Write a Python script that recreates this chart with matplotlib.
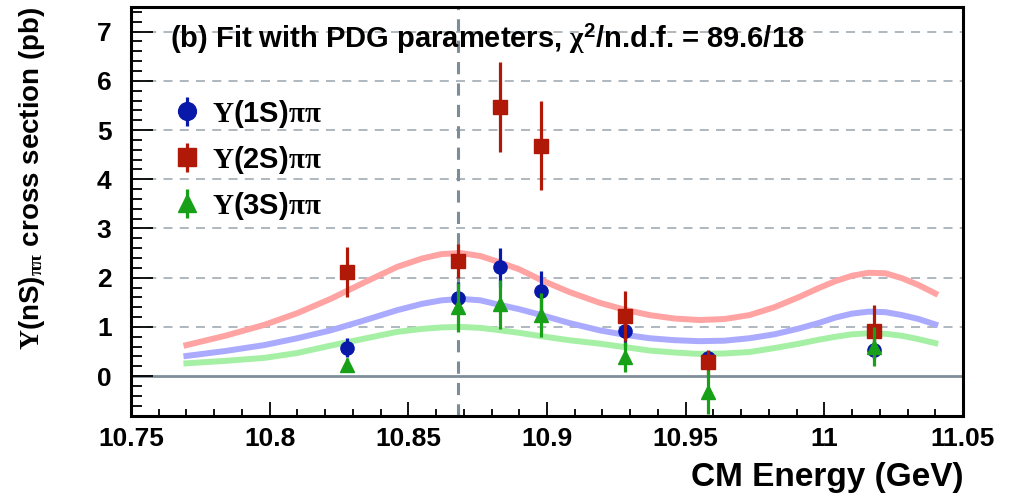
import matplotlib
matplotlib.use("Agg")
import matplotlib.pyplot as plt
from matplotlib.ticker import MultipleLocator

plt.rcParams['font.family'] = ['Liberation Sans', 'DejaVu Sans']
plt.rcParams['font.weight'] = 'bold'
plt.rcParams['mathtext.fontset'] = 'custom'
plt.rcParams['mathtext.rm'] = 'Liberation Serif'
plt.rcParams['mathtext.it'] = 'Liberation Serif:italic'
plt.rcParams['mathtext.bf'] = 'Liberation Sans:bold'
plt.rcParams['mathtext.sf'] = 'Liberation Sans:bold'

# Measured cross sections at each scan energy (pb)
energy = [10.828, 10.868, 10.883, 10.898, 10.928, 10.958, 11.018]
ups1s = [0.58, 1.59, 2.21, 1.73, 0.91, 0.36, 0.54]
ups1s_err = [0.20, 0.32, 0.40, 0.40, 0.30, 0.15, 0.20]
ups2s = [2.12, 2.34, 5.47, 4.68, 1.22, 0.28, 0.91]
ups2s_err = [0.51, 0.34, 0.92, 0.90, 0.50, 0.25, 0.53]
ups3s = [0.22, 1.40, 1.46, 1.24, 0.39, -0.32, 0.60]
ups3s_err = [0.14, 0.50, 0.50, 0.45, 0.30, 0.45, 0.40]

# Fit curves with PDG resonance parameters
fit_energy = [10.770, 10.784, 10.798, 10.810, 10.822, 10.834, 10.846, 10.855,
              10.862, 10.869, 10.876, 10.882, 10.890, 10.898, 10.908, 10.919,
              10.928, 10.937, 10.946, 10.955, 10.964, 10.973, 10.982, 10.991,
              10.998, 11.004, 11.010, 11.016, 11.022, 11.028, 11.034, 11.040]
fit_1s = [0.41, 0.51, 0.63, 0.77, 0.93, 1.13, 1.34, 1.47, 1.54, 1.57, 1.54,
          1.46, 1.36, 1.24, 1.08, 0.93, 0.84, 0.77, 0.73, 0.71, 0.72, 0.77,
          0.85, 0.97, 1.08, 1.19, 1.27, 1.31, 1.30, 1.24, 1.16, 1.05]
fit_2s = [0.63, 0.82, 1.04, 1.28, 1.57, 1.90, 2.22, 2.39, 2.48, 2.50, 2.44,
          2.33, 2.17, 1.95, 1.71, 1.49, 1.35, 1.24, 1.17, 1.14, 1.16, 1.24,
          1.40, 1.61, 1.79, 1.93, 2.04, 2.10, 2.09, 1.99, 1.85, 1.68]
fit_3s = [0.26, 0.31, 0.37, 0.47, 0.62, 0.76, 0.90, 0.96, 0.99, 1.00, 0.98,
          0.94, 0.88, 0.81, 0.73, 0.66, 0.59, 0.52, 0.48, 0.45, 0.46, 0.49,
          0.57, 0.66, 0.74, 0.80, 0.85, 0.87, 0.86, 0.82, 0.75, 0.67]

peak_energy = 10.868

fig = plt.figure(figsize=(10.12, 4.96), dpi=100)
ax = fig.add_axes([0.1294, 0.1613, 0.8222, 0.8246])
ax.set_xlim(10.75, 11.05)
ax.set_ylim(-0.81, 7.5)

# grid and reference lines
for yv in range(1, 8):
    ax.axhline(yv, color='#a7b2b9', lw=1.3, ls=(0, (5, 4)), zorder=1)
ax.axhline(0, color='#7f8e98', lw=2.0, zorder=1)
ax.axvline(peak_energy, color='#7d8d98', lw=2.2, ls=(0, (4, 3)), zorder=1)

# fit curves
ax.plot(fit_energy, fit_2s, color='#ffa3a3', lw=4.3, zorder=2, solid_joinstyle='round')
ax.plot(fit_energy, fit_1s, color='#aaaaff', lw=4.3, zorder=2, solid_joinstyle='round')
ax.plot(fit_energy, fit_3s, color='#a6f0a6', lw=4.3, zorder=2, solid_joinstyle='round')

# data points
h1 = ax.errorbar(energy, ups1s, yerr=ups1s_err, fmt='o', color='#0818a8', ms=9.5,
                 elinewidth=2.3, capsize=0, zorder=4,
                 label=r'$\mathrm{\Upsilon}$(1S)$\mathrm{\pi\pi}$')
h2 = ax.errorbar(energy, ups2s, yerr=ups2s_err, fmt='s', color='#b01808', ms=9.5,
                 elinewidth=2.3, capsize=0, zorder=5,
                 label=r'$\mathrm{\Upsilon}$(2S)$\mathrm{\pi\pi}$')
h3 = ax.errorbar(energy, ups3s, yerr=ups3s_err, fmt='^', color='#18a018', ms=10,
                 elinewidth=2.3, capsize=0, zorder=6,
                 label=r'$\mathrm{\Upsilon}$(3S)$\mathrm{\pi\pi}$')

leg = ax.legend(handles=[h1, h2, h3], loc='upper left', frameon=False,
                bbox_to_anchor=(0.036, 0.807), prop={'size': 21, 'weight': 'bold'},
                handlelength=1.0, handletextpad=0.35, labelspacing=0.48,
                borderaxespad=0, markerscale=1.35)

ax.text(0.047, 0.962, r'(b) Fit with PDG parameters, $\mathrm{\chi}^{\mathbf{2}}$/n.d.f. = 89.6/18',
        transform=ax.transAxes, fontsize=21, fontweight='bold', va='top', ha='left',
        zorder=7)

# axes styling
for sp in ax.spines.values():
    sp.set_linewidth(2.2)
ax.xaxis.set_major_locator(MultipleLocator(0.05))
ax.xaxis.set_minor_locator(MultipleLocator(0.01))
ax.yaxis.set_major_locator(MultipleLocator(1))
ax.yaxis.set_minor_locator(MultipleLocator(0.2))
ax.tick_params(axis='both', which='both', direction='in', top=False, right=False,
               labelsize=19, width=1.3)
ax.tick_params(axis='y', which='major', length=16, pad=14)
ax.tick_params(axis='y', which='minor', length=8)
ax.tick_params(axis='x', which='major', length=10, pad=8)
ax.tick_params(axis='x', which='minor', length=5)
ax.set_xticks([10.75, 10.8, 10.85, 10.9, 10.95, 11.0, 11.05])
ax.set_xticklabels(['10.75', '10.8', '10.85', '10.9', '10.95', '11', '11.05'])
for lab in ax.get_xticklabels() + ax.get_yticklabels():
    lab.set_fontweight('bold')

ax.set_xlabel('CM Energy (GeV)', fontsize=24, fontweight='bold', loc='right', labelpad=8)
ax.set_ylabel(r'$\mathrm{\Upsilon}$(nS)$_{\mathrm{\pi\pi}}$ cross section (pb)',
              fontsize=20, fontweight='bold', loc='top', labelpad=36)

fig.savefig('out.png', dpi=100)
